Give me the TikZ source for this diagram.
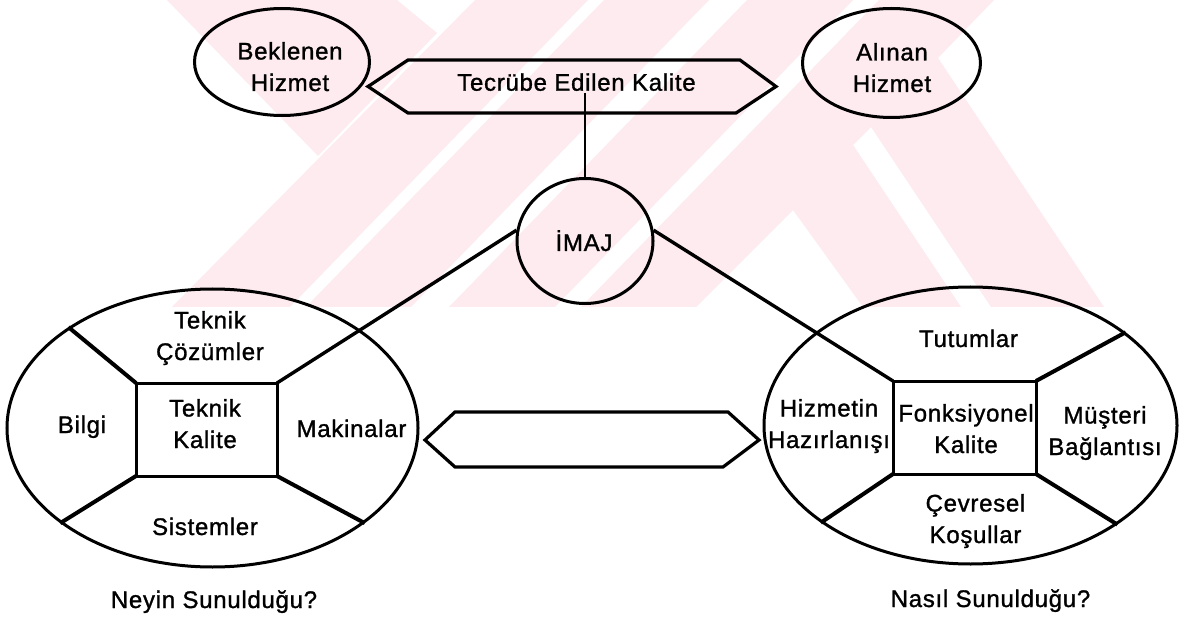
\documentclass[tikz,border=0pt]{standalone}
\usepackage{fontspec}
\setmainfont{Liberation Sans}[LetterSpace=3, FakeBold=1.2]
\usetikzlibrary{shapes.geometric}
\definecolor{wmpink}{RGB}{253,235,239}
\begin{document}
\begin{tikzpicture}[x=1bp,y=-1bp,
  lab/.style={font=\fontsize{24bp}{31.5bp}\selectfont, align=center, inner sep=0pt, anchor=base},
  oval/.style={draw, ellipse, line width=3bp, inner sep=0pt},
  core/.style={draw, rectangle, line width=3bp, inner sep=0pt, outer sep=0pt},
  spoke/.style={line width=4bp},
  link/.style={line width=3.4bp},
  stem/.style={line width=2.2bp},
  arrowbox/.style={line width=3.2bp, line join=miter},
  emblem/.style={fill=wmpink, draw=none}
]
\useasboundingbox (0,0) rectangle (1183,617);
\fill[white] (0,0) rectangle (1183,617);

% faint background emblem
\fill[emblem] (167,0) -- (397,0) -- (437,33) -- (318,156) -- cycle;
\fill[emblem] (475,0) -- (588,0) -- (290,307) -- (172,307) -- cycle;
\fill[emblem] (604,0) -- (709,0) -- (411,307) -- (306,307) -- cycle;
\fill[emblem] (747,0) -- (853,0) -- (555,307) -- (449,307) -- cycle;
\fill[emblem] (879,0) -- (994,0) -- (938,58) -- (1104,307) -- (991,307) -- (871,127)
  -- (853,145) -- (961,307) -- (863,307) -- (793,210) -- (696,307) -- (581,307) -- cycle;

% top row
\node[oval, minimum width=175bp, minimum height=107bp] (bek) at (282,62) {};
\node[oval, minimum width=178bp, minimum height=109bp] (aln) at (891.5,63) {};
\node[lab] (bekT) at (290,91) {Beklenen\\Hizmet};
\node[lab] (alnT) at (892,92) {Alınan\\Hizmet};

\draw[arrowbox] (368,86.5) -- (408,60) -- (740,60) -- (776,86.5) -- (736,113) -- (408,113) -- cycle;
\node[lab] (tecT) at (576.5,90.7) {Tecrübe Edilen Kalite};
\coordinate (tecfoot) at (585,93);

% image circle
\node[oval, minimum width=136bp, minimum height=125bp] (imaj) at (585,241) {};
\node[lab] (imajT) at (584,251) {İMAJ};
\draw[stem] (tecfoot) -- (imaj.north);

% left cluster
\node[oval, minimum width=411bp, minimum height=278bp] (lell) at (212.5,428) {};
\node[core, minimum width=141bp, minimum height=93bp] (lrect) at (206.5,429.5) {};
\draw[link] (imaj.171) -- (lrect.north east);
\draw[spoke] (lrect.north west) -- (lell.145);
\draw[spoke] (lrect.south west) -- (lell.212);
\draw[spoke] (lrect.south east) -- (lell.328);
\node[lab] (cozT) at (210,360) {Teknik\\Çözümler};
\node[lab] (bilT) at (82,433) {Bilgi};
\node[lab] (tkT) at (205,448) {Teknik\\Kalite};
\node[lab] (makT) at (351.5,437) {Makinalar};
\node[lab] (sisT) at (205,535) {Sistemler};
\node[lab] (neyT) at (214,608) {Neyin Sunulduğu?};

% middle double arrow
\draw[arrowbox] (425,440) -- (455,412) -- (728,412) -- (759,440) -- (723,467) -- (455,467) -- cycle;

% right cluster
\node[oval, minimum width=413bp, minimum height=277bp] (rell) at (970.5,425.5) {};
\node[core, minimum width=143bp, minimum height=93bp] (rrect) at (964.5,427.5) {};
\draw[link] (imaj.9) -- (rrect.north west);
\draw[spoke] (rrect.north east) -- (rell.31);
\draw[spoke] (rrect.south west) -- (rell.213);
\draw[spoke] (rrect.south east) -- (rell.326);
\node[lab] (tutT) at (968.5,347) {Tutumlar};
\node[lab] (hizT) at (829,448) {Hizmetin\\Hazırlanışı};
\node[lab] (fonT) at (966,453) {Fonksiyonel\\Kalite};
\node[lab] (musT) at (1105,455) {Müşteri\\Bağlantısı};
\node[lab] (cevT) at (975.5,543) {Çevresel\\Koşullar};
\node[lab] (nasT) at (990.5,607) {Nasıl Sunulduğu?};
\end{tikzpicture}
\end{document}
